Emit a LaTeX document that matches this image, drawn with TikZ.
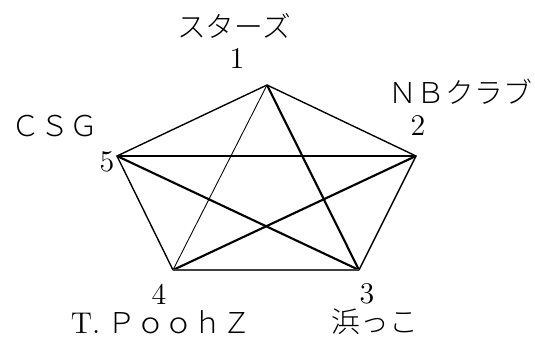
\documentclass[tikz,border=0pt]{standalone}
\usepackage{fontspec}
\usepackage{tikz}
\newfontfamily\jp{Noto Sans CJK JP Light}

\begin{document}
\begin{tikzpicture}[
  x=0.4pt, y=-0.4pt,
  font=\fontsize{11.5}{14}\selectfont,
  num/.style={inner sep=0pt, font=\fontsize{12}{14}\selectfont},
  team/.style={inner sep=0pt, font=\fontsize{11.5}{14}\selectfont\jp},
  rim/.style={line width=0.55pt},
  chord/.style={line width=0.35pt},
  heavy/.style={line width=0.85pt},
]
\useasboundingbox (0,0) rectangle (535,341);
% wierzcholki pieciokata
\coordinate (p1) at (267,85);
\coordinate (p2) at (416,156);
\coordinate (p3) at (359,270);
\coordinate (p4) at (173,270);
\coordinate (p5) at (117,156);
% numery i nazwy druzyn
\node[num] (n1) at (237,59) {1};
\node[team] (t1) at (234,26) {スターズ};
\node[num] (n2) at (418,126) {2};
\node[team] (t2) at (460,92) {ＮＢクラブ};
\node[num] (n3) at (367,294) {3};
\node[team] (t3) at (375,322) {浜っこ};
\node[num] (n4) at (159,294) {4};
\node[team] (t4) at (161,322) {{\normalfont\fontsize{12}{14}\selectfont T.}\hspace{0.25em}ＰｏｏｈＺ};
\node[num] (n5) at (107,162) {5};
\node[team] (t5) at (55,126) {ＣＳＧ};
% boki
\draw[rim] (p1) -- (p2) -- (p3);
\draw[rim] (p1) -- (p5) -- (p4);
% przekatne
\draw[chord] (p1) -- (p4);
\draw[heavy] (p1) -- (p3);
\draw[heavy] (p5) -- (p2);
\draw[heavy] (p5) -- (p3);
\draw[heavy] (p4) -- (p2);
\draw[heavy, black!75] (p4) -- (p3);
\end{tikzpicture}
\end{document}
